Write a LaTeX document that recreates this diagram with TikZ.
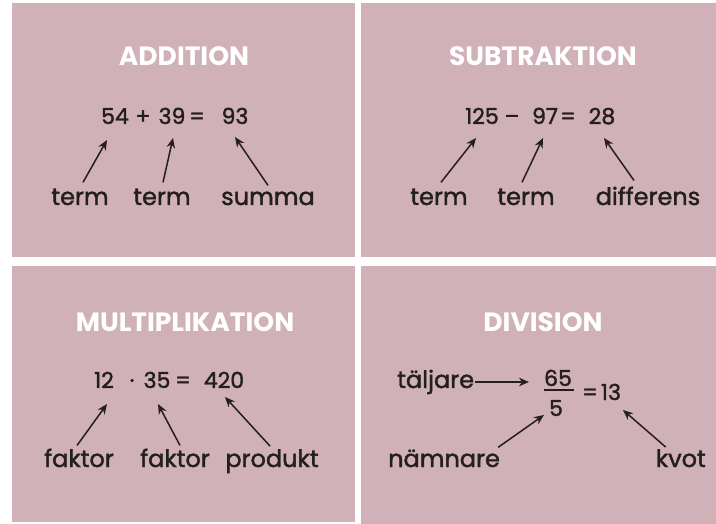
\documentclass[tikz,border=0pt]{standalone}
\usepackage{fontspec}
\setmainfont{Poppins}
\newfontfamily\medfont[FakeBold=1.6]{Poppins}
\usetikzlibrary{arrows.meta}
\definecolor{panel}{HTML}{D1B1B8}
\definecolor{ink}{HTML}{231F20}
\begin{document}
\begin{tikzpicture}[x=1pt,y=-1pt,
  box/.style={fill=panel,draw=none},
  ttl/.style={text=white,font=\fontsize{26.5}{26.5}\selectfont\bfseries,anchor=base,inner sep=0pt},
  eq/.style={text=ink,font=\medfont\fontsize{22}{22}\selectfont,anchor=base,inner sep=0pt},
  lbl/.style={text=ink,font=\medfont\fontsize{24}{24}\selectfont,anchor=base,inner sep=0pt},
  arr/.style={draw=ink,line width=1.5pt,-{Stealth[length=10pt,width=8.5pt]}}]
\useasboundingbox[fill=white] (0,0) rectangle (716,524);
\fill[box] (12,3) rectangle (355,257);
\fill[box] (361,3) rectangle (716,257);
\fill[box] (12,266) rectangle (355,522);
\fill[box] (361,266) rectangle (716,524);
% ADDITION
\node[ttl] (t1) at (184,66) {ADDITION};
\node[eq] (a54) at (115,124) {54};
\node[eq] (aplus) at (143,124) {+};
\node[eq] (a39) at (172,124) {39};
\node[eq] (aeq) at (197,124) {=};
\node[eq] (a93) at (235,124) {93};
\node[lbl] (aterm1) at (80,205) {term};
\node[lbl] (aterm2) at (162,205) {term};
\node[lbl] (asum) at (268,205) {summa};
\coordinate (ae1) at (107,140);
\coordinate (ae2) at (173,138);
\coordinate (ae3) at (235,137);
\draw[arr] ([xshift=3pt,yshift=6pt]aterm1.north) -- (ae1);
\draw[arr] ([xshift=1pt,yshift=6pt]aterm2.north) -- (ae2);
\draw[arr] ([yshift=6pt]asum.north) -- (ae3);
% SUBTRAKTION
\node[ttl] (t2) at (543,66) {SUBTRAKTION};
\node[eq] (s125) at (482,124) {125};
\node[eq] (sminus) at (512,124) {–};
\node[eq] (s97) at (545,124) {97};
\node[eq] (seq) at (568,124) {=};
\node[eq] (s28) at (602,124) {28};
\node[lbl] (sterm1) at (439,205) {term};
\node[lbl] (sterm2) at (526,205) {term};
\node[lbl] (sdiff) at (648,205) {differens};
\coordinate (se1) at (476,138);
\coordinate (se2) at (543,138);
\coordinate (se3) at (604,138);
\draw[arr] ([xshift=2pt,yshift=6pt]sterm1.north) -- (se1);
\draw[arr] ([xshift=-4pt,yshift=6pt]sterm2.north) -- (se2);
\draw[arr] ([xshift=-14pt,yshift=6pt]sdiff.north) -- (se3);
% MULTIPLIKATION
\node[ttl] (t3) at (185,331) {MULTIPLIKATION};
\node[eq] (m12) at (104,388) {12};
\node[eq] (mdot) at (132,388) {·};
\node[eq] (m35) at (157,388) {35};
\node[eq] (meq) at (183,388) {=};
\node[eq] (m420) at (224,388) {420};
\node[lbl] (mf1) at (79,467) {faktor};
\node[lbl] (mf2) at (175,467) {faktor};
\node[lbl] (mprod) at (272,467) {produkt};
\coordinate (me1) at (107,404);
\coordinate (me2) at (158,404);
\coordinate (me3) at (225,397);
\draw[arr] ([xshift=-2pt,yshift=3pt]mf1.north) -- (me1);
\draw[arr] ([xshift=5pt,yshift=3pt]mf2.north) -- (me2);
\draw[arr] ([xshift=-2pt,yshift=3pt]mprod.north) -- (me3);
% DIVISION
\node[ttl] (t4) at (543,331) {DIVISION};
\node[lbl,anchor=base west] (dtal) at (397,388) {täljare};
\node[eq] (d65) at (558,386) {65};
\node[eq] (d5) at (556,416) {5};
\coordinate (dbl) at (544,390);
\coordinate (dbr) at (574,390);
\draw[draw=ink,line width=1.5pt] (dbl) -- (dbr);
\node[eq] (deq) at (590,400) {=};
\node[eq] (d13) at (611,400) {13};
\node[lbl,anchor=base west] (dnam) at (388,467) {nämnare};
\node[lbl,anchor=base east] (dkvot) at (706,467) {kvot};
\coordinate (de1) at (529,382);
\coordinate (de2) at (544,415);
\coordinate (de3) at (623,410);
\draw[arr] ([xshift=1pt]dtal.east |- de1) -- (de1);
\draw[arr] ([xshift=-2pt,yshift=2pt]dnam.north east) -- (de2);
\draw[arr] ([xshift=10pt,yshift=2pt]dkvot.north west) -- (de3);
\end{tikzpicture}
\end{document}
